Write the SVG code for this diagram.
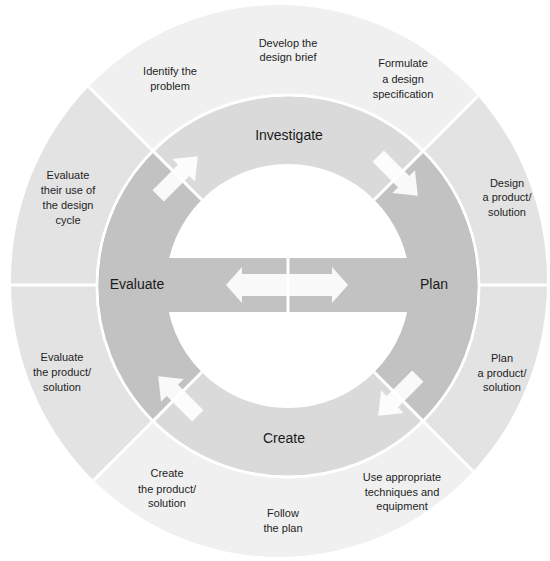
<svg xmlns="http://www.w3.org/2000/svg" width="550" height="561" viewBox="0 0 550 561">
  <defs>
    <style>
      .lbl { font-family: "Liberation Sans", Arial, sans-serif; font-size: 11px; fill: #1e1e1e; text-anchor: middle; }
      .stage { font-family: "Liberation Sans", Arial, sans-serif; font-size: 14px; fill: #1a1a1a; text-anchor: middle; }
      .light { fill: #dadada; }
      .dark { fill: #c2c2c2; }
      .rim { fill: none; stroke: #8c8c8c; stroke-width: 1; }
      .gap { fill: none; stroke: #ffffff; stroke-width: 3; }
      .arrow { fill: #ffffff; fill-opacity: 0.9; }
    </style>
    <clipPath id="outerClip">
      <ellipse cx="279" cy="281" rx="268" ry="276"/>
    </clipPath>
    <!-- tangential arrow, pointing along +x, centred on the origin -->
    <path id="cycleArrow" d="M -28 -8 L 8 -8 L 8 -16 L 28 0 L 8 16 L 8 8 L -28 8 Z"/>
  </defs>

  <rect width="550" height="561" fill="#ffffff"/>

  <!-- outer ring of sub-steps -->
  <g id="outer-ring">
    <ellipse cx="279" cy="281" rx="268" ry="276" fill="#f0f0f0"/>
    <g clip-path="url(#outerClip)">
      <polygon points="288,286 -112,-114 -112,686" fill="#e3e3e3"/>
      <polygon points="288,286 688,-114 688,686" fill="#e3e3e3"/>
      <!-- section dividers -->
      <line class="gap" x1="288" y1="286" x2="-12" y2="-14"/>
      <line class="gap" x1="288" y1="286" x2="588" y2="-14"/>
      <line class="gap" x1="288" y1="286" x2="588" y2="586"/>
      <line class="gap" x1="288" y1="286" x2="-12" y2="586"/>
      <line class="gap" x1="0" y1="285" x2="110" y2="285" stroke-width="1.5"/>
      <line class="gap" x1="466" y1="285" x2="550" y2="285" stroke-width="1.5"/>
    </g>
  </g>

  <!-- outer ring labels -->
  <g id="identify-problem">
    <text class="lbl" x="170" y="75">Identify the</text>
    <text class="lbl" x="170" y="90">problem</text>
  </g>
  <g id="develop-brief">
    <text class="lbl" x="288" y="47">Develop the</text>
    <text class="lbl" x="288" y="61">design brief</text>
  </g>
  <g id="formulate-spec">
    <text class="lbl" x="403" y="67">Formulate</text>
    <text class="lbl" x="403" y="83">a design</text>
    <text class="lbl" x="403" y="98">specification</text>
  </g>
  <g id="design-solution">
    <text class="lbl" x="507" y="187">Design</text>
    <text class="lbl" x="507" y="201">a product/</text>
    <text class="lbl" x="507" y="216">solution</text>
  </g>
  <g id="plan-solution">
    <text class="lbl" x="502" y="362">Plan</text>
    <text class="lbl" x="502" y="377">a product/</text>
    <text class="lbl" x="502" y="391">solution</text>
  </g>
  <g id="use-techniques">
    <text class="lbl" x="402" y="481">Use appropriate</text>
    <text class="lbl" x="402" y="496">techniques and</text>
    <text class="lbl" x="402" y="510">equipment</text>
  </g>
  <g id="follow-plan">
    <text class="lbl" x="283" y="517">Follow</text>
    <text class="lbl" x="283" y="532">the plan</text>
  </g>
  <g id="create-solution">
    <text class="lbl" x="167" y="477">Create</text>
    <text class="lbl" x="167" y="493">the product/</text>
    <text class="lbl" x="167" y="507">solution</text>
  </g>
  <g id="evaluate-solution">
    <text class="lbl" x="62" y="361">Evaluate</text>
    <text class="lbl" x="62" y="376">the product/</text>
    <text class="lbl" x="62" y="391">solution</text>
  </g>
  <g id="evaluate-use">
    <text class="lbl" x="68" y="179">Evaluate</text>
    <text class="lbl" x="68" y="194">their use of</text>
    <text class="lbl" x="68" y="209">the design</text>
    <text class="lbl" x="68" y="224">cycle</text>
  </g>

  <!-- open centre of the cycle -->
  <g id="centre">
    <circle cx="288" cy="286" r="123" fill="#ffffff"/>
  </g>

  <!-- inner ring: the four stages -->
  <g id="investigate">
    <path class="light" d="M 153.65 151.65 A 190 190 0 0 1 422.35 151.65 L 374.27 199.73 A 122 122 0 0 0 201.73 199.73 Z"/>
    <text class="stage" x="289" y="140">Investigate</text>
  </g>
  <g id="plan">
    <path class="dark" d="M 422.35 151.65 A 190 190 0 0 1 422.35 420.35 L 374.27 372.27 A 122 122 0 0 0 374.27 199.73 Z"/>
    <rect class="dark" x="288" y="258" width="122" height="54"/>
    <path class="rim" d="M 422.35 151.65 A 190 190 0 0 1 422.35 420.35"/>
    <text class="stage" x="434" y="289">Plan</text>
  </g>
  <g id="create">
    <path class="light" d="M 422.35 420.35 A 190 190 0 0 1 153.65 420.35 L 201.73 372.27 A 122 122 0 0 0 374.27 372.27 Z"/>
    <text class="stage" x="284" y="443">Create</text>
  </g>
  <g id="evaluate">
    <path class="dark" d="M 153.65 420.35 A 190 190 0 0 1 153.65 151.65 L 201.73 199.73 A 122 122 0 0 0 201.73 372.27 Z"/>
    <rect class="dark" x="166" y="258" width="122" height="54"/>
    <path class="rim" d="M 153.65 420.35 A 190 190 0 0 1 153.65 151.65"/>
    <text class="stage" x="137" y="289">Evaluate</text>
  </g>

  <!-- connectors: dividers and cycle arrows -->
  <g id="connectors">
    <circle class="gap" cx="288" cy="286" r="191" stroke-width="2"/>
    <line class="gap" x1="201.73" y1="199.73" x2="153.65" y2="151.65"/>
    <line class="gap" x1="374.27" y1="199.73" x2="422.35" y2="151.65"/>
    <line class="gap" x1="374.27" y1="372.27" x2="422.35" y2="420.35"/>
    <line class="gap" x1="201.73" y1="372.27" x2="153.65" y2="420.35"/>
    <line class="gap" x1="288" y1="258" x2="288" y2="312" stroke-width="2"/>
    <use href="#cycleArrow" class="arrow" transform="translate(178 176) rotate(-45)"/>
    <use href="#cycleArrow" class="arrow" transform="translate(398 176) rotate(45)"/>
    <use href="#cycleArrow" class="arrow" transform="translate(398 396) rotate(135)"/>
    <use href="#cycleArrow" class="arrow" transform="translate(178 396) rotate(-135)"/>
    <path class="arrow" d="M 226 285 L 242 267 L 242 274 L 332 274 L 332 267 L 348 285 L 332 303 L 332 296 L 242 296 L 242 303 Z"/>
  </g>
</svg>
